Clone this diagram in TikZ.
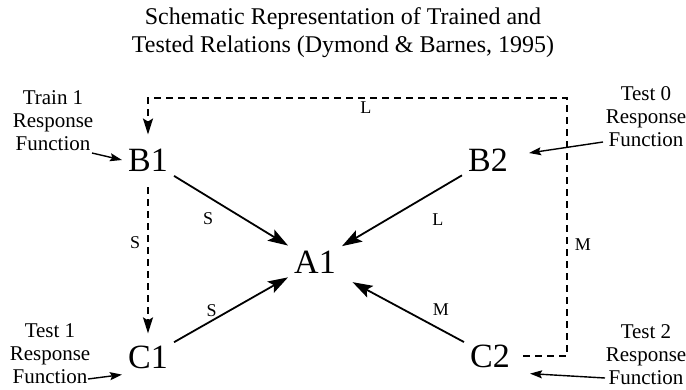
\documentclass[tikz,border=0pt]{standalone}
\usepackage{fontspec}
\setmainfont{Liberation Serif}
\usepackage{tikz}
\usetikzlibrary{arrows.meta}

\begin{document}
\begin{tikzpicture}[x=1pt, y=-1pt,
  stim/.style={font=\fontsize{34}{34}\selectfont, inner sep=6pt},
  func/.style={font=\fontsize{21}{23}\selectfont, align=center, inner sep=0pt},
  lbl/.style={font=\fontsize{18}{18}\selectfont, inner sep=3pt},
  rel/.style={-{Stealth[length=20pt,width=13pt,inset=4pt]}, line width=1.8pt},
  derived/.style={-{Stealth[length=16pt,width=10pt,inset=3pt]}, line width=1.8pt, dash pattern=on 7pt off 5pt},
  pointer/.style={-{Stealth[length=12pt,width=8pt,inset=2pt]}, line width=1.4pt}]
\useasboundingbox (0,0) rectangle (686,389);

\node[font=\fontsize{24}{28}\selectfont, align=center] (title) at (343,33) {Schematic Representation of Trained and\\Tested Relations (Dymond \& Barnes, 1995)};

\node[stim] (B1) at (148,160) {B1};
\node[stim] (B2) at (488,160) {B2};
\node[stim] (A1) at (315,262) {A1};
\node[stim] (C1) at (148,357) {C1};
\node[stim] (C2) at (490,356) {C2};

\node[func] (train1) at (53,121) {Train 1\\Response\\Function};
\node[func] (test0) at (646,117) {Test 0\\Response\\Function};
\node[func] (test1) at (50,354) {Test 1\\Response\\Function};
\node[func] (test2) at (646,355) {Test 2\\Response\\Function};

\coordinate (train1tail) at (92,153);
\coordinate (test0tail) at (603,142);
\coordinate (test1tail) at (88,379);
\coordinate (test2tail) at (605,378);
\coordinate (loopNE) at (567,98);

\draw[rel] (B1) -- node[pos=0.3, below=12pt, lbl] {S} (A1);
\draw[rel] (B2) -- node[pos=0.2, below=20pt, lbl] {L} (A1);
\draw[rel] (C1) -- node[pos=0.33, above, lbl] {S} (A1);
\draw[rel, shorten >=12pt] (C2) -- node[pos=0.19, above=10pt, lbl] {M} (A1);

\draw[derived, shorten <=10pt, shorten >=6pt] (B1) -- node[pos=0.4, left=4pt, lbl] {S} (C1);
\draw[derived, shorten <=7pt, shorten >=8pt] (C2.east) -| node[pos=0.715, right=4pt, lbl] {M} (loopNE) -| node[pos=0.24, below, lbl] {L} (B1.north);

\draw[pointer] (train1tail) -- (B1.west);
\draw[pointer] (test0tail) -- ([xshift=15pt, yshift=7pt]B2.east);
\draw[pointer] (test1tail) -- (C1.south west);
\draw[pointer] (test2tail) -- ([xshift=14pt]C2.south east);
\end{tikzpicture}
\end{document}
